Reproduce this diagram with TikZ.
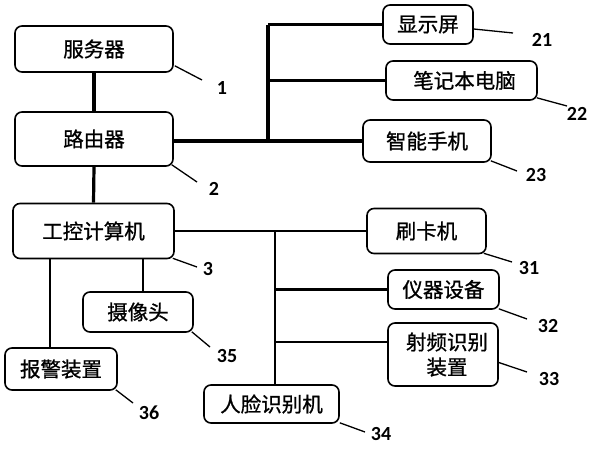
\documentclass[tikz,border=0pt]{standalone}
\usepackage{fontspec}
\newfontfamily\cjk[FakeBold=0.9]{Noto Sans CJK SC}
\newfontfamily\numfont{Carlito}
\begin{document}
\begin{tikzpicture}[x=1pt,y=-1pt,
  box/.style={draw, line width=1.6pt, rounded corners=7pt, inner sep=0pt,
    align=center, font=\cjk\fontsize{20.5}{25}\selectfont},
  busthick/.style={line width=3.2pt},
  busthin/.style={line width=2.3pt},
  leader/.style={line width=1.3pt},
  num/.style={font=\numfont\bfseries\fontsize{20}{22}\selectfont, inner sep=0pt}]
\useasboundingbox (0,0) rectangle (594,450);
% boxes
\node[box, minimum width=158pt, minimum height=46pt] (srv) at (94,49) {服务器};
\node[box, minimum width=158pt, minimum height=54pt] (rtr) at (94,139) {路由器};
\node[box, minimum width=161pt, minimum height=55pt] (ipc) at (93.5,231) {工控计算机};
\node[box, minimum width=110pt, minimum height=40pt] (cam) at (138,312) {摄像头};
\node[box, minimum width=112pt, minimum height=42pt] (alarm) at (61,369) {报警装置};
\node[box, minimum width=135pt, minimum height=38pt] (face) at (271.5,404) {人脸识别机};
\node[box, minimum width=119pt, minimum height=45pt] (card) at (426.5,231) {刷卡机};
\node[box, minimum width=111pt, minimum height=39pt] (inst) at (443.5,289.5) {仪器设备};
\node[box, minimum width=110pt, minimum height=63pt] (rfid) at (443,354.5) {\hspace*{8pt}射频识别\\\hspace*{8pt}装置};
\node[box, minimum width=90pt, minimum height=39pt] (disp) at (428,24.5) {显示屏};
\node[box, minimum width=151pt, minimum height=39pt] (laptop) at (461.5,80.5) {\hspace*{6pt}笔记本电脑};
\node[box, minimum width=128pt, minimum height=42pt] (phone) at (427,141) {智能手机};
% bus coordinates
\coordinate (bus1) at (268,0);
\coordinate (bus2) at (275,0);
\coordinate (camlink) at (143,0);
\coordinate (alarmlink) at (50,0);
\coordinate (rfidin) at (388,342);
% connectors
\draw[busthick] (srv.south) -- (rtr.north);
\draw[busthick] (rtr.south) -- (ipc.north);
\draw[busthick] (rtr.east |- phone.west) -- (phone.west);
\draw[busthick] (bus1 |- disp.west) -- (bus1 |- phone.west);
\draw[busthin] (bus1 |- disp.west) -- (disp.west);
\draw[busthin] (bus1 |- laptop.west) -- (laptop.west);
\draw[busthin] (ipc.east) -- (card.west);
\draw[busthin] (bus2 |- card.west) -- (bus2 |- face.north);
\draw[busthin] (bus2 |- inst.west) -- (inst.west);
\draw[busthin] (bus2 |- rfidin) -- (rfidin);
\draw[busthin] (ipc.south -| camlink) -- (cam.north -| camlink);
\draw[busthin] (ipc.south -| alarmlink) -- (alarm.north -| alarmlink);
% leaders
\coordinate (e1) at (202,80);
\coordinate (e2) at (197,182);
\coordinate (e3) at (197,267);
\coordinate (e35) at (210,347);
\coordinate (e36) at (133,403);
\coordinate (e34) at (365,432);
\coordinate (e31) at (512,262);
\coordinate (e32) at (527,319);
\coordinate (e33) at (527,372);
\coordinate (e21) at (513,33);
\coordinate (e22) at (567,106);
\coordinate (e23) at (517,171);
\draw[leader] ([xshift=1pt,yshift=7pt]srv.south east) -- (e1);
\draw[leader] ([xshift=-2pt,yshift=2pt]rtr.south east) -- (e2);
\draw[leader] ([xshift=-2pt,yshift=1pt]ipc.south east) -- (e3);
\draw[leader] ([xshift=-2pt,yshift=1pt]cam.south east) -- (e35);
\draw[leader] ([xshift=-2pt,yshift=1pt]alarm.south east) -- (e36);
\draw[leader] ([yshift=1pt]face.south east) -- (e34);
\draw[leader] ([xshift=-3pt,yshift=1pt]card.south east) -- (e31);
\draw[leader] ([xshift=-1pt,yshift=1pt]inst.south east) -- (e32);
\draw[leader] ([yshift=-8pt]rfid.east) -- (e33);
\draw[leader] ([yshift=-4.5pt]disp.east) -- (e21);
\draw[leader] ([xshift=-1pt,yshift=3pt]laptop.south east) -- (e22);
\draw[leader] ([xshift=-1pt,yshift=2pt]phone.south east) -- (e23);
% numbers
\node[num] (n1) at (222,88) {1};
\node[num] (n2) at (214,189) {2};
\node[num] (n3) at (208,269) {3};
\node[num] (n35) at (227,356) {35};
\node[num] (n36) at (149,413) {36};
\node[num] (n34) at (381,434) {34};
\node[num] (n31) at (529,268) {31};
\node[num] (n32) at (548,326) {32};
\node[num] (n33) at (549,379) {33};
\node[num] (n21) at (542,40) {21};
\node[num] (n22) at (577,114) {22};
\node[num] (n23) at (536,175) {23};
\end{tikzpicture}
\end{document}
